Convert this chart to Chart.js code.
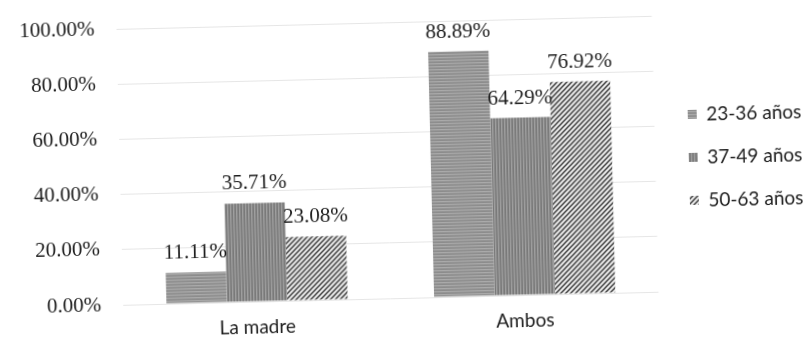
<!DOCTYPE html>
<html>
<head>
<meta charset="utf-8">
<script src="https://cdn.jsdelivr.net/npm/chart.js@4/dist/chart.umd.min.js"></script>
<style>
  html, body { margin: 0; padding: 0; background: #ffffff; overflow: hidden; }
  #wrap { width: 803px; height: 338px; }
  #chart { display: block; transform: rotate(-1.4deg); transform-origin: 50% 50%; }
</style>
</head>
<body>
<div id="wrap"><canvas id="chart" width="803" height="338"></canvas></div>
<script>
// Categories, age groups and percentages per group
const categories = ['La madre', 'Ambos'];
const seriesNames = ['23-36 años', '37-49 años', '50-63 años'];
const values2336 = [11.11, 88.89];
const values3749 = [35.71, 64.29];
const values5063 = [23.08, 76.92];
const yTicks = [0, 20, 40, 60, 80, 100];

// Fill patterns for the three series
function makePattern(kind) {
  const c = document.createElement('canvas');
  const g = c.getContext('2d');
  if (kind === 'h') {
    c.width = 4; c.height = 3;
    const rows = ['#8c8c8c', '#aaaaaa', '#959595'];
    rows.forEach((col, i) => { g.fillStyle = col; g.fillRect(0, i, 4, 1); });
  } else if (kind === 'v') {
    c.width = 3; c.height = 4;
    const cols = ['#797979', '#9f9f9f', '#888888'];
    cols.forEach((col, i) => { g.fillStyle = col; g.fillRect(i, 0, 1, 4); });
  } else {
    c.width = 5; c.height = 5;
    g.fillStyle = '#e6e6e6';
    g.fillRect(0, 0, 5, 5);
    g.strokeStyle = '#484848';
    g.lineWidth = 1.5;
    g.beginPath();
    g.moveTo(-1, 6); g.lineTo(6, -1);
    g.moveTo(-3, 3); g.lineTo(3, -3);
    g.moveTo(2, 8); g.lineTo(8, 2);
    g.stroke();
  }
  return g.createPattern(c, 'repeat');
}

const fills = [makePattern('h'), makePattern('v'), makePattern('d')];
const seriesValues = [values2336, values3749, values5063];

// Percentage labels written above each bar
const barLabels = {
  id: 'barLabels',
  afterDatasetsDraw(chart) {
    const ctx = chart.ctx;
    ctx.save();
    ctx.font = '21px "Liberation Serif", "Times New Roman", serif';
    ctx.fillStyle = '#1c1c1c';
    ctx.textAlign = 'center';
    ctx.textBaseline = 'alphabetic';
    chart.data.datasets.forEach((ds, di) => {
      chart.getDatasetMeta(di).data.forEach((bar, i) => {
        ctx.fillText(ds.data[i].toFixed(2) + '%', bar.x, bar.y - 14);
      });
    });
    ctx.restore();
  }
};

// Places the legend column to the right of the plot
const legendPlacement = {
  id: 'legendPlacement',
  afterLayout(chart) {
    const lg = chart.legend;
    if (!lg) return;
    lg.left = 665;
    lg.right = chart.width;
    lg.top = 88;
    lg.bottom = chart.height;
  }
};

new Chart(document.getElementById('chart'), {
  type: 'bar',
  data: {
    labels: categories,
    datasets: seriesNames.map((name, i) => ({
      label: name,
      data: seriesValues[i],
      backgroundColor: fills[i],
      borderWidth: 0,
      barPercentage: 1.0,
      categoryPercentage: 0.677
    }))
  },
  options: {
    responsive: false,
    animation: false,
    devicePixelRatio: 1,
    layout: { padding: { left: 23, right: 0, top: 22, bottom: 3 } },
    scales: {
      x: {
        grid: { display: false, drawTicks: false },
        border: { display: false },
        afterFit(scale) {
          scale.height = 37;
          scale.paddingLeft = 0;
          scale.paddingRight = 0;
        },
        ticks: {
          padding: 14,
          color: '#1c1c1c',
          font: { family: 'Lato, "Open Sans", sans-serif', size: 19 }
        }
      },
      y: {
        min: 0,
        max: 100,
        afterBuildTicks(scale) { scale.ticks = yTicks.map(v => ({ value: v })); },
        afterFit(scale) {
          scale.width = 97;
          scale.paddingTop = 0;
          scale.paddingBottom = 0;
        },
        grid: { color: '#e6e6e6', lineWidth: 1, drawTicks: false },
        border: { display: false },
        ticks: {
          padding: 22,
          color: '#1c1c1c',
          font: { family: '"Liberation Serif", "Times New Roman", serif', size: 21 },
          callback: v => Number(v).toFixed(2) + '%'
        }
      }
    },
    plugins: {
      tooltip: { enabled: false },
      legend: {
        position: 'right',
        align: 'start',
        labels: {
          boxWidth: 9,
          boxHeight: 9,
          padding: 24,
          color: '#1c1c1c',
          font: { family: 'Lato, "Open Sans", sans-serif', size: 19 }
        }
      }
    }
  },
  plugins: [barLabels, legendPlacement]
});
</script>
</body>
</html>
